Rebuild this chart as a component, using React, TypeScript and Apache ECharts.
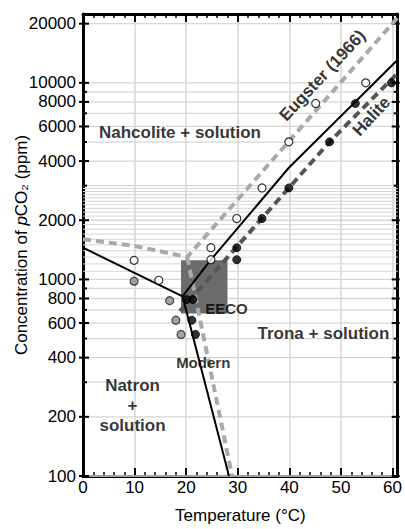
import React, { useEffect, useRef } from 'react';
import * as echarts from 'echarts';

const FONT = '"Liberation Sans", Arial, Helvetica, sans-serif';

// Y axis ticks (ppm)
const yLabelTicks = [100, 200, 400, 600, 800, 1000, 2000, 4000, 6000, 8000, 10000, 20000];
const yMinorTicks = [300, 500, 700, 900, 3000, 5000, 7000, 9000];
const yFineGrid = [1100, 1200, 1300, 1400, 1500, 1600, 1700, 1800, 1900, 2100, 2200, 2300, 2400, 2500, 2600, 2700, 2800, 2900];

// Data points [temperature °C, pCO2 ppm]
const openCircles = [
  [9.9, 1250], [14.7, 990], [24.8, 1260], [24.8, 1450], [29.8, 2040],
  [34.7, 2920], [39.9, 5010], [45.1, 7850], [54.8, 10000],
];
const filledCircles = [
  [20.1, 790], [21.3, 790], [21.1, 620], [21.8, 525], [29.8, 1450], [29.8, 1260],
  [34.7, 2040], [39.9, 2920], [47.8, 5010], [52.8, 7850], [59.8, 10000],
];
const grayCircles = [
  [9.9, 980], [16.8, 780], [18.0, 620], [19.0, 525],
];

// Phase boundaries
const blackBoundaryUpper = [[0, 1450], [19.3, 820], [24.8, 1260], [39.9, 3700], [61, 13100]];
const blackBoundaryLower = [[19.3, 820], [28.3, 100]];
const eugsterUpper = [[0, 1600], [10, 1480], [20.2, 1300], [61, 21500]];
const eugsterLower = [[20.2, 1300], [28.9, 100]];
const haliteLine = [[18.8, 690], [39.9, 2920], [47.8, 5010], [61, 11200]];

// EECO box
const eecoTemp = [19, 28];
const eecoCO2 = [670, 1250];

// Text annotations: [T, pCO2, text, rotate, fontSize]
const annotations: [number, number, string, number, number][] = [
  [18.8, 5560, 'Nahcolite + solution', 0, 17],
  [46.4, 10900, 'Eugster (1966)', 47, 17],
  [55.9, 6760, 'Halite', 47, 17],
  [27.8, 708, 'EECO', 0, 15],
  [46.6, 531, 'Trona + solution', 0, 17],
  [23.3, 380, 'Modern', 0, 15],
  [9.6, 229, 'Natron\n+\nsolution', 0, 17],
];

const tickRender = (kind: 'label' | 'minor' | 'fine') => (params: any, api: any) => {
  const v = api.value(1);
  const cs = params.coordSys;
  const y = api.coord([0, v])[1];
  const xl = cs.x;
  const xr = cs.x + cs.width;
  const children: any[] = [];
  children.push({
    type: 'line',
    shape: { x1: xl, y1: y, x2: xr, y2: y },
    style: { stroke: '#d6d6d6', lineWidth: kind === 'fine' ? 1 : 1.3 },
  });
  if (kind !== 'fine') {
    const long = kind === 'label';
    children.push({
      type: 'line',
      shape: { x1: xl - (long ? 4 : 0), y1: y, x2: xl + (long ? 6 : 4), y2: y },
      style: { stroke: '#000', lineWidth: 2 },
    });
    children.push({
      type: 'line',
      shape: { x1: xr - (long ? 6 : 4), y1: y, x2: xr + (long ? 2 : 0), y2: y },
      style: { stroke: '#000', lineWidth: 2 },
    });
  }
  if (kind === 'label') {
    children.push({
      type: 'text',
      style: {
        text: String(v), x: xl - 7, y,
        align: 'right', verticalAlign: 'middle',
        fontSize: 17, fontFamily: FONT, fill: '#000',
      },
    });
  }
  return { type: 'group', children };
};

export default function App() {
  const ref = useRef<HTMLDivElement>(null);
  useEffect(() => {
    if (!ref.current) return;
    const chart = echarts.init(ref.current, undefined, { renderer: 'svg' });
    const xCommon: any = { type: 'value', min: 0, max: 61 };
    const axisLine = { show: true, onZero: false, lineStyle: { color: '#000', width: 3 } };
    const option: any = {
      animation: false,
      backgroundColor: '#fff',
      textStyle: { fontFamily: FONT },
      grid: { left: 83, right: 5, top: 14, bottom: 45, containLabel: false },
      xAxis: [
        {
          ...xCommon, position: 'bottom', interval: 2,
          axisLine,
          axisTick: { show: true, inside: true, length: 4, lineStyle: { color: '#000', width: 1.5 } },
          axisLabel: {
            formatter: (v: number) => (v % 10 === 0 ? String(v) : ''),
            fontSize: 17, color: '#000', fontFamily: FONT, margin: 3,
          },
          splitLine: { show: false },
          name: 'Temperature (°C)', nameLocation: 'middle', nameGap: 31,
          nameTextStyle: { fontSize: 17, color: '#000', fontFamily: FONT },
        },
        {
          ...xCommon, position: 'bottom', interval: 10,
          axisLine: { show: false, onZero: false },
          axisTick: { show: true, inside: true, length: 8, lineStyle: { color: '#000', width: 2 } },
          axisLabel: { show: false },
          splitLine: { show: true, lineStyle: { color: '#d6d6d6', width: 1.5 } },
        },
        {
          ...xCommon, position: 'top', interval: 2,
          axisLine,
          axisTick: { show: true, inside: true, length: 4, lineStyle: { color: '#000', width: 1.5 } },
          axisLabel: { show: false },
          splitLine: { show: false },
        },
        {
          ...xCommon, position: 'top', interval: 10,
          axisLine: { show: false, onZero: false },
          axisTick: { show: true, inside: true, length: 8, lineStyle: { color: '#000', width: 2 } },
          axisLabel: { show: false },
          splitLine: { show: false },
        },
      ],
      yAxis: [
        {
          type: 'log', logBase: 10, min: 100, max: 22400, position: 'left',
          axisLine, axisTick: { show: false }, axisLabel: { show: false }, splitLine: { show: false },
          name: 'Concentration of {i|p}CO₂ (ppm)', nameLocation: 'middle', nameGap: 53, nameRotate: 90,
          nameTextStyle: {
            fontSize: 17, color: '#000', fontFamily: FONT,
            rich: { i: { fontStyle: 'italic', fontSize: 17, color: '#000', fontFamily: FONT } },
          },
        },
        {
          type: 'log', logBase: 10, min: 100, max: 22400, position: 'right',
          axisLine, axisTick: { show: false }, axisLabel: { show: false }, splitLine: { show: false },
        },
      ],
      series: [
        { type: 'custom', z: 1, renderItem: tickRender('fine'), data: yFineGrid.map((v) => [0, v]), silent: true },
        { type: 'custom', z: 1, renderItem: tickRender('minor'), data: yMinorTicks.map((v) => [0, v]), silent: true },
        { type: 'custom', z: 1, renderItem: tickRender('label'), data: yLabelTicks.map((v) => [0, v]), silent: true },
        {
          type: 'custom', z: 2, silent: true,
          data: [[eecoTemp[0], eecoCO2[0], eecoTemp[1], eecoCO2[1]]],
          renderItem: (params: any, api: any) => {
            const p0 = api.coord([api.value(0), api.value(3)]);
            const p1 = api.coord([api.value(2), api.value(1)]);
            return {
              type: 'rect',
              shape: { x: p0[0], y: p0[1], width: p1[0] - p0[0], height: p1[1] - p0[1] },
              style: { fill: '#6b6b6b' },
            };
          },
        },
        {
          type: 'line', z: 3, data: eugsterUpper, symbol: 'none',
          lineStyle: { color: '#a9a9a9', width: 4, type: [8, 5], cap: 'butt' },
        },
        {
          type: 'line', z: 3, data: eugsterLower, symbol: 'none',
          lineStyle: { color: '#a9a9a9', width: 4, type: [8, 5], cap: 'butt' },
        },
        {
          type: 'line', z: 3, data: haliteLine, symbol: 'none',
          lineStyle: { color: '#555555', width: 4, type: [8, 5], cap: 'butt' },
        },
        {
          type: 'line', z: 4, data: blackBoundaryUpper, symbol: 'none',
          lineStyle: { color: '#000', width: 2 },
        },
        {
          type: 'line', z: 4, data: blackBoundaryLower, symbol: 'none',
          lineStyle: { color: '#000', width: 2 },
        },
        {
          type: 'scatter', z: 5, data: openCircles, symbol: 'circle', symbolSize: 8,
          itemStyle: { color: '#fff', borderColor: '#000', borderWidth: 1.2 },
        },
        {
          type: 'scatter', z: 5, data: grayCircles, symbol: 'circle', symbolSize: 8,
          itemStyle: { color: '#8c8c8c', borderColor: '#222', borderWidth: 1.2 },
        },
        {
          type: 'scatter', z: 5, data: filledCircles, symbol: 'circle', symbolSize: 8,
          itemStyle: { color: '#000', borderColor: '#000', borderWidth: 1 },
        },
        {
          type: 'scatter', z: 6, symbolSize: 0, silent: true,
          data: annotations.map(([t, c, text, rot, fs]) => ({
            value: [t, c],
            name: text,
            label: { rotate: rot, fontSize: fs },
          })),
          label: {
            show: true, position: 'inside', formatter: (p: any) => p.name,
            color: '#000', fontWeight: 'bold', fontFamily: FONT, lineHeight: 20,
          },
        },
      ],
    };
    chart.setOption(option);
    return () => chart.dispose();
  }, []);
  return <div ref={ref} style={{ position: 'absolute', left: 0, top: 0, width: 405, height: 529 }} />;
}
